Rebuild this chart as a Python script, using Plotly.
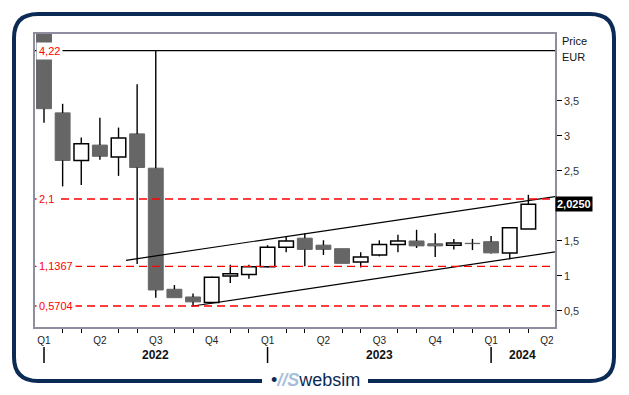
import plotly.graph_objects as go

# ---------------- data ----------------
months = ["2022-01","2022-02","2022-03","2022-04","2022-05","2022-06","2022-07","2022-08","2022-09",
          "2022-10","2022-11","2022-12","2023-01","2023-02","2023-03","2023-04","2023-05","2023-06",
          "2023-07","2023-08","2023-09","2023-10","2023-11","2023-12","2024-01","2024-02","2024-03"]
open_ = [4.46, 3.33, 2.65, 2.87, 2.70, 3.03, 2.54, 0.81, 0.70, 0.62, 1.00, 1.02, 1.13, 1.41, 1.54, 1.44,
         1.39, 1.20, 1.30, 1.45, 1.50, 1.46, 1.44, 1.467, 1.49, 1.33, 1.67]
high = [4.46, 3.46, 2.98, 3.26, 3.12, 3.74, 4.22, 0.87, 0.75, 0.99, 1.16, 1.16, 1.44, 1.57, 1.61, 1.51,
        1.39, 1.34, 1.51, 1.59, 1.66, 1.61, 1.53, 1.53, 1.57, 1.69, 2.16]
low = [3.19, 2.28, 2.30, 2.66, 2.43, 1.17, 0.69, 0.69, 0.56, 0.61, 0.90, 0.96, 1.12, 1.34, 1.14, 1.30,
       1.18, 1.12, 1.28, 1.34, 1.40, 1.27, 1.38, 1.37, 1.32, 1.24, 1.67]
close = [3.39, 2.65, 2.89, 2.71, 2.97, 2.55, 0.80, 0.69, 0.63, 0.98, 1.03, 1.13, 1.41, 1.50, 1.38, 1.38,
         1.18, 1.27, 1.45, 1.50, 1.43, 1.43, 1.47, 1.462, 1.33, 1.69, 2.025]

quarter_labels = ["Q1","Q2","Q3","Q4","Q1","Q2","Q3","Q4","Q1","Q2"]
year_labels = ["2022", "2023", "2024"]
year_label_pos = [6, 18, 25.7]
year_separators = [0, 12, 24]

levels_red = [2.1, 1.1367, 0.5704]
levels_red_text = ["2,1", "1,1367", "0,5704"]
level_max = 4.22
level_max_text = "4,22"
last_price_text = "2,0250"

upper_channel_x = [4.40, 27.5]
upper_channel_y = [1.224, 2.136]
lower_channel_x = [8.0, 27.5]
lower_channel_y = [0.571, 1.346]

y_ticks = [0.5, 1, 1.5, 2.5, 3, 3.5]

# ---------------- figure ----------------
W, H = 629, 395
L, R, T, B = 35, 555, 34, 327
def px(x): return (x - L) / (R - L)
def py(y): return (B - y) / (B - T)

n = len(months)
xs = list(range(n))
DARK = "#666666"
FONT = "Liberation Sans, Arial"

fig = go.Figure()

# wick segments (outside bodies)
wx, wy = [], []
for i in xs:
    top = max(open_[i], close[i]); bot = min(open_[i], close[i])
    wx += [i, i, None, i, i, None]
    wy += [high[i], top, None, bot, low[i], None]
fig.add_trace(go.Scatter(x=wx, y=wy, mode="lines", line=dict(color="black", width=1.4),
                         hoverinfo="skip", showlegend=False))

up = [i for i in xs if close[i] >= open_[i]]
dn = [i for i in xs if close[i] < open_[i]]
fig.add_trace(go.Bar(x=up, y=[close[i] - open_[i] for i in up], base=[open_[i] for i in up],
                     width=0.78, marker=dict(color="white", line=dict(color="black", width=1.5)),
                     showlegend=False))
fig.add_trace(go.Bar(x=dn, y=[open_[i] - close[i] for i in dn], base=[close[i] for i in dn],
                     width=0.8, marker=dict(color=DARK, line=dict(color=DARK, width=1)),
                     showlegend=False))

# channel lines
fig.add_trace(go.Scatter(x=upper_channel_x, y=upper_channel_y, mode="lines",
                         line=dict(color="black", width=1.2), showlegend=False, hoverinfo="skip"))
fig.add_trace(go.Scatter(x=lower_channel_x, y=lower_channel_y, mode="lines",
                         line=dict(color="black", width=1.2), showlegend=False, hoverinfo="skip"))

shapes = []
shapes.append(dict(type="line", xref="paper", yref="y", x0=0, x1=1, y0=level_max, y1=level_max,
                   line=dict(color="black", width=1.4), layer="above"))
for v in levels_red:
    shapes.append(dict(type="line", xref="paper", yref="y", x0=0, x1=1, y0=v, y1=v,
                       line=dict(color="#ff0000", width=1.4, dash="8px,5px"), layer="above"))
for s in year_separators:
    shapes.append(dict(type="line", xref="x", yref="paper", x0=s, x1=s, y0=py(347), y1=py(363),
                       line=dict(color="black", width=1.5)))
# outer rounded frame with gap for logo
r = 24
x0f, x1f, y0f, y1f = 14, 614, 14, 381
def P(x, y): return f"{px(x):.5f},{py(y):.5f}"
path = (f"M {P(262, y1f)} L {P(x0f + r, y1f)} Q {P(x0f, y1f)} {P(x0f, y1f - r)} "
        f"L {P(x0f, y0f + r)} Q {P(x0f, y0f)} {P(x0f + r, y0f)} "
        f"L {P(x1f - r, y0f)} Q {P(x1f, y0f)} {P(x1f, y0f + r)} "
        f"L {P(x1f, y1f - r)} Q {P(x1f, y1f)} {P(x1f - r, y1f)} L {P(368, y1f)}")
shapes.append(dict(type="path", xref="paper", yref="paper", path=path,
                   line=dict(color="#0b2a55", width=4)))

annotations = []
annotations.append(dict(xref="paper", yref="y", x=0, y=level_max, text=level_max_text, showarrow=False,
                        xanchor="left", yanchor="middle", xshift=1,
                        font=dict(color="#ff0000", size=11, family=FONT), bgcolor="white", borderpad=2))
for v, t in zip(levels_red, levels_red_text):
    annotations.append(dict(xref="paper", yref="y", x=0, y=v, text=t, showarrow=False,
                            xanchor="left", yanchor="middle", xshift=1,
                            font=dict(color="#ff0000", size=11, family=FONT), bgcolor="white", borderpad=2))
annotations.append(dict(xref="paper", yref="y", x=1, y=close[-1], text="<b>" + last_price_text + "</b>",
                        showarrow=False, xanchor="left", yanchor="middle",
                        font=dict(color="white", size=11, family=FONT), bgcolor="black", borderpad=1))
annotations.append(dict(xref="paper", yref="paper", x=px(560), y=py(41), text="Price", showarrow=False,
                        xanchor="left", yanchor="middle", font=dict(size=11, color="#111", family=FONT)))
annotations.append(dict(xref="paper", yref="paper", x=px(560), y=py(57), text="EUR", showarrow=False,
                        xanchor="left", yanchor="middle", font=dict(size=11, color="#111", family=FONT)))
for t, p in zip(year_labels, year_label_pos):
    annotations.append(dict(xref="x", yref="paper", x=p, y=py(355), text="<b>" + t + "</b>",
                            showarrow=False, yanchor="middle", font=dict(size=12, color="#111", family=FONT)))
annotations.append(dict(xref="paper", yref="paper", x=px(315), y=py(380), xanchor="center", yanchor="middle",
                        text="<span style='color:#0b2a55'>•</span><b><i><span style='color:#a9bfd9'>//S</span></i></b>"
                             "<span style='color:#0b2a55'>websim</span>",
                        showarrow=False, font=dict(size=18, family=FONT)))

fig.update_layout(
    width=W, height=H, autosize=False,
    margin=dict(l=L, r=W - R, t=T, b=H - B),
    paper_bgcolor="white", plot_bgcolor="white",
    barmode="overlay", separators=",.",
    shapes=shapes, annotations=annotations,
    xaxis=dict(range=[-0.483, 27.43], tickvals=[3 * k for k in range(10)], ticktext=quarter_labels,
               ticks="", showgrid=False, zeroline=False, showline=True, mirror=True,
               linecolor="#8e8ea0", linewidth=1.5, ticklabelstandoff=3,
               tickfont=dict(size=10, color="#222", family=FONT),
               minor=dict(tickvals=[i for i in range(28) if i % 3 != 0], ticks="outside",
                          ticklen=4, tickcolor="black", tickwidth=1)),
    yaxis=dict(range=[0.271, 4.457], side="right", tickvals=y_ticks, ticks="outside", ticklen=5,
               tickcolor="black", showgrid=False, zeroline=False, showline=True, mirror=True,
               linecolor="#8e8ea0", linewidth=1.5,
               tickfont=dict(size=11, color="#333", family=FONT)),
)

fig.write_html("out.html", config={"displayModeBar": False},
               post_script="document.body.style.margin='0';document.body.style.overflow='hidden';")
